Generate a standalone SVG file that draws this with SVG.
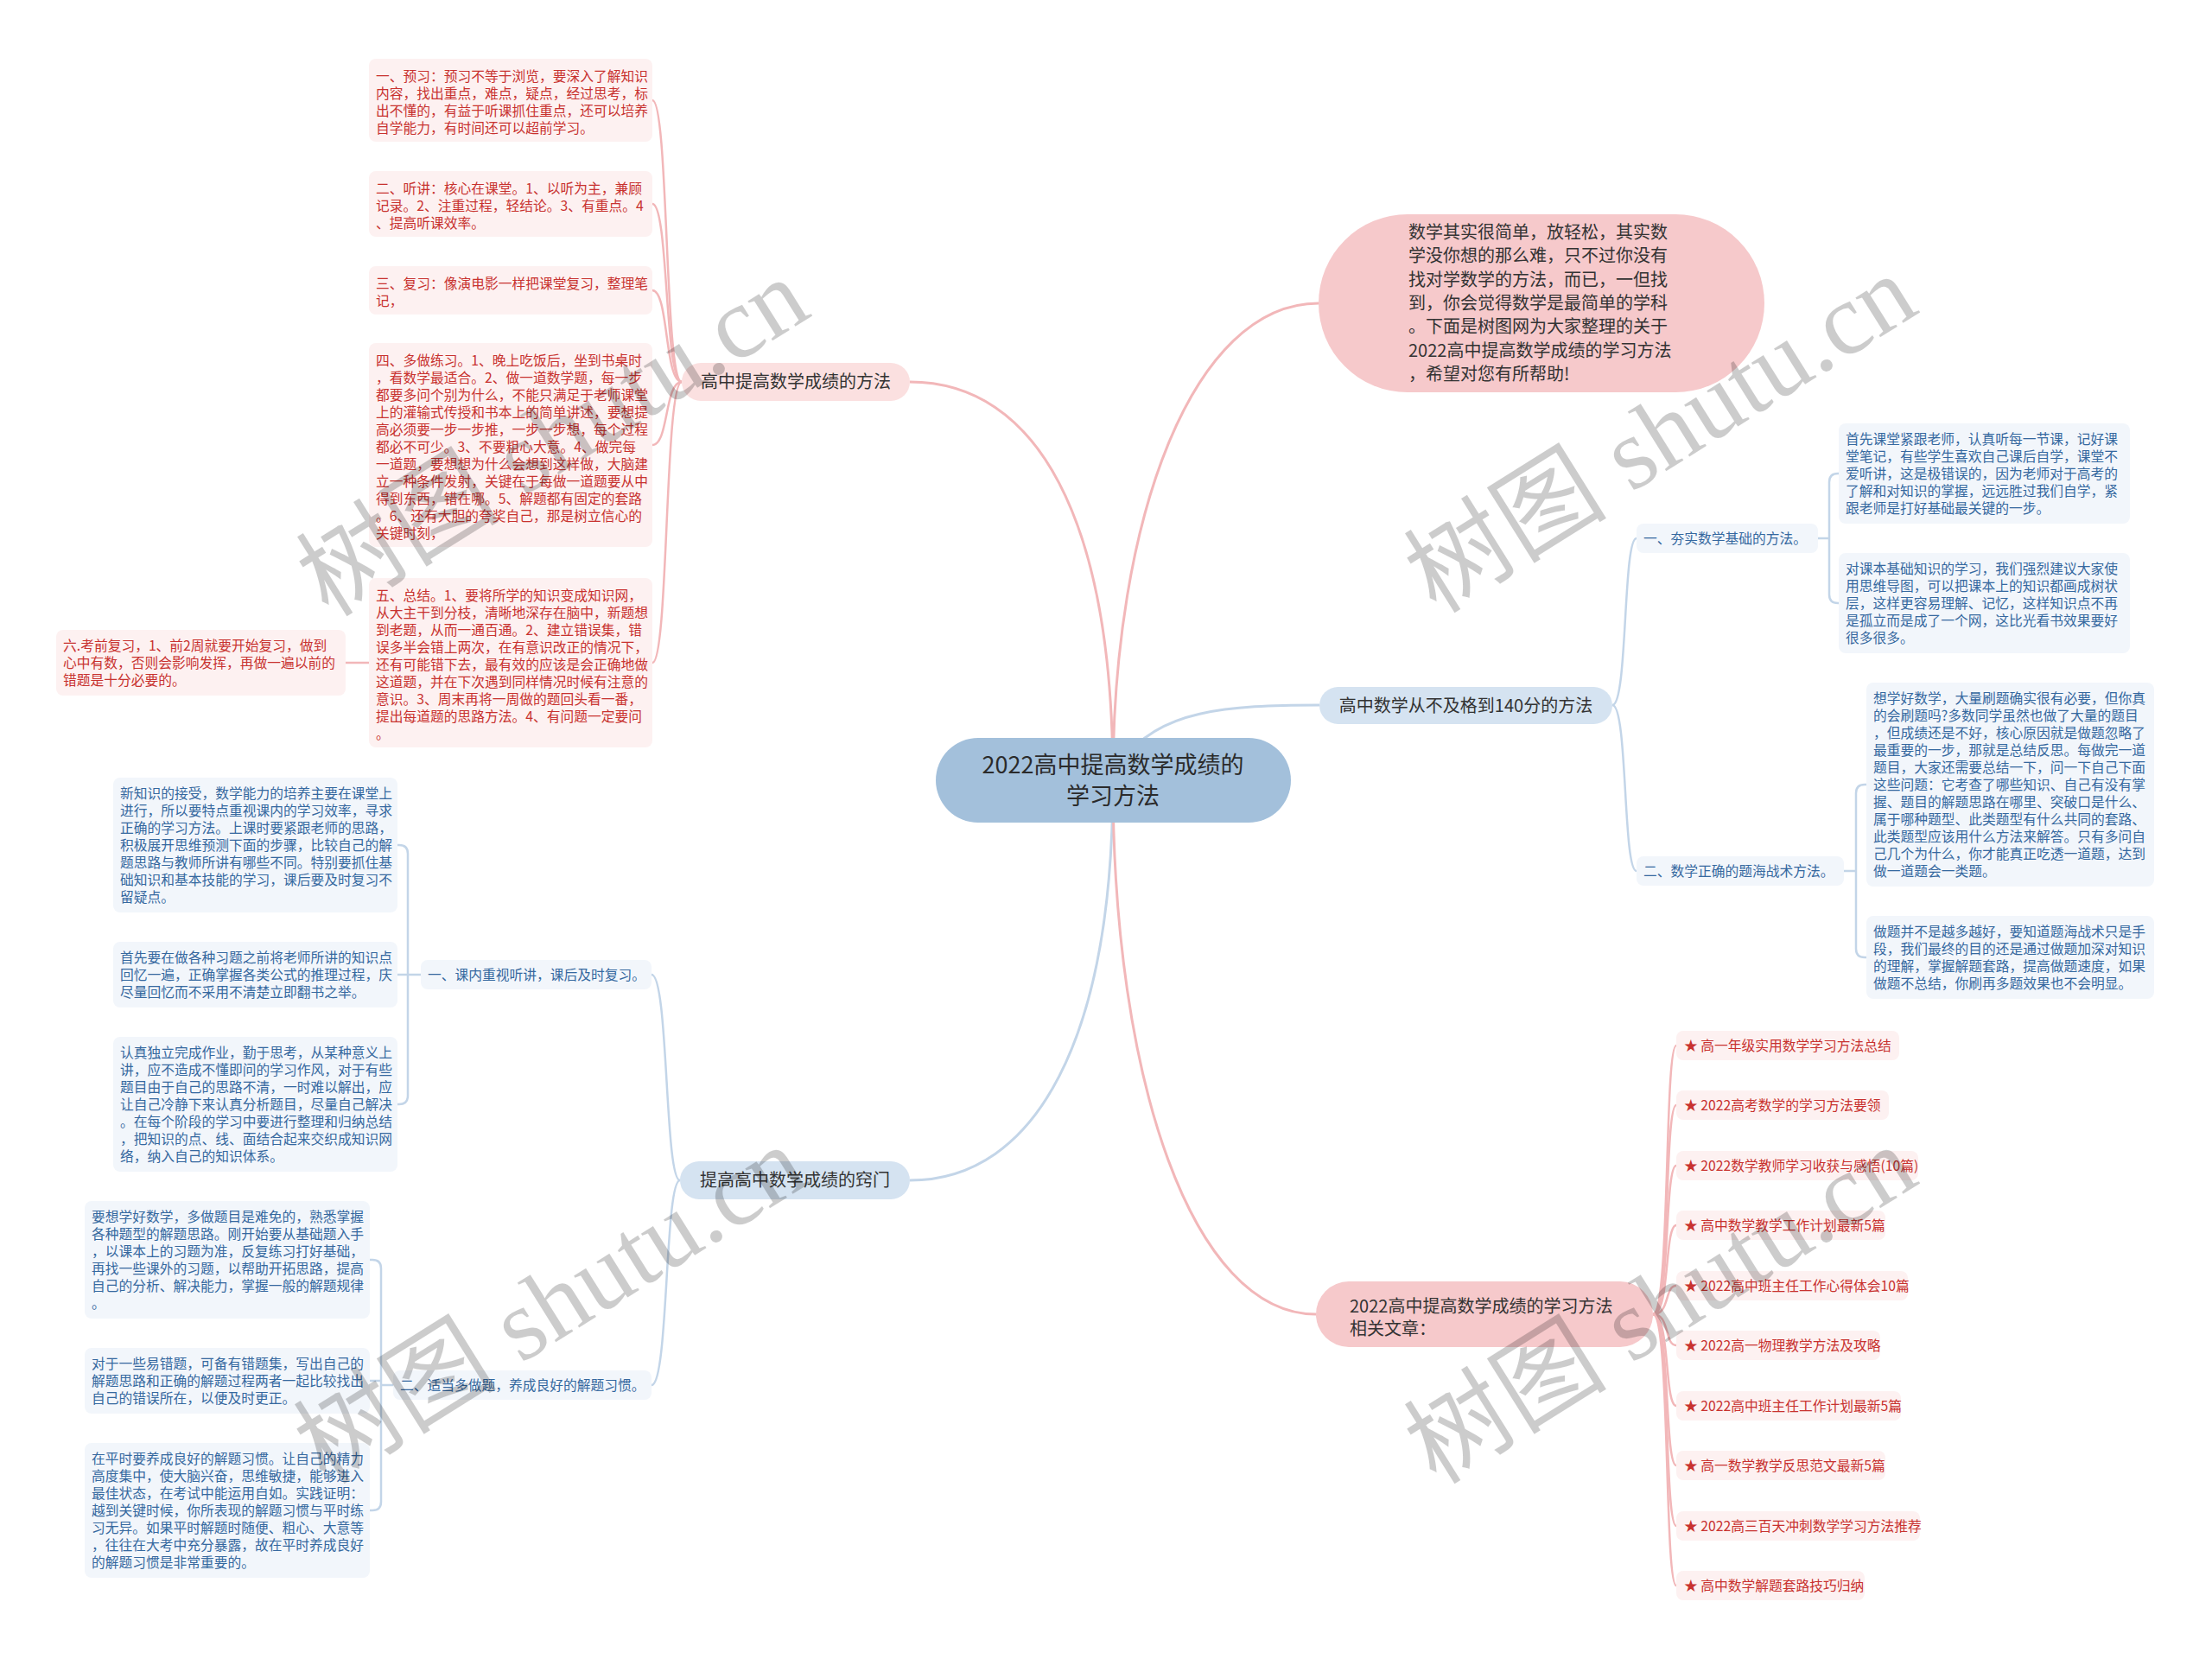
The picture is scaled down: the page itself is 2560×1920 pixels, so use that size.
<svg xmlns="http://www.w3.org/2000/svg" width="2560" height="1920" viewBox="0 0 2560 1920">
<style>
text{font-family:"Noto Sans CJK SC","Liberation Sans",sans-serif}
.r{font-size:15.75px;fill:#c8322f}
.b{font-size:15.75px;fill:#35689f}
.rb{fill:#fdf1f1}
.bb{fill:#f2f6fb}
.lv1{font-size:20px;fill:#333}
.pk{fill:none;stroke:#f2b7b9;stroke-width:2.5}
.bl{fill:none;stroke:#c3d5e8;stroke-width:2.5}
.pk3{fill:none;stroke:#f2b7b9;stroke-width:3}
.bl3{fill:none;stroke:#c3d5e8;stroke-width:3}
.wm{font-family:"Liberation Serif","Noto Sans CJK SC",serif;font-size:118px;fill:#000;fill-opacity:.2}
</style>
<rect width="2560" height="1920" fill="#fff"/>
<g id="connectors">
<path class="pk3" d="M1053 442 C1200 442 1288 600 1288 903"/>
<path class="pk3" d="M1288 903 C1288 600 1380 351 1526 351"/>
<path class="bl3" d="M1300 880 C1340 822 1420 816 1527 816"/>
<path class="bl3" d="M1288 903 C1288 1200 1200 1366 1053 1366"/>
<path class="pk3" d="M1288 903 C1288 1250 1380 1521 1523 1521"/>
<path class="pk" d="M789 442 C769 442 774 116 755 116"/>
<path class="pk" d="M789 442 C769 442 774 236 755 236"/>
<path class="pk" d="M789 442 C769 442 774 336 755 336"/>
<path class="pk" d="M789 442 C769 442 774 515 755 515"/>
<path class="pk" d="M789 442 C769 442 774 767 755 767"/>
<path class="pk" d="M427 767 H400"/>
<path class="bl" d="M787 1366 C769 1366 774 1128 754 1128"/>
<path class="bl" d="M787 1366 C769 1366 774 1603 754 1603"/>
<path class="bl" d="M487 1128 H472 M460 978 H462 Q472 978 472 988 V1268 Q472 1278 462 1278 H460 M472 1128 H460"/>
<path class="bl" d="M455 1603 H441 M428 1458 H431 Q441 1458 441 1468 V1738 Q441 1748 431 1748 H428 M441 1598 H428"/>
<path class="bl" d="M1866 816 C1884 816 1878 623 1894 623"/>
<path class="bl" d="M1866 816 C1884 816 1878 1008 1894 1008"/>
<path class="bl" d="M2104 623 H2117 M2128 548 H2127 Q2117 548 2117 558 V688 Q2117 698 2127 698 H2128"/>
<path class="bl" d="M2134 1008 H2148 M2160 908 H2158 Q2148 908 2148 918 V1098 Q2148 1108 2158 1108 H2160"/>
<path class="pk" d="M1913 1521 C1933 1521 1926 1210 1940 1210"/>
<path class="pk" d="M1913 1521 C1933 1521 1926 1279 1940 1279"/>
<path class="pk" d="M1913 1521 C1933 1521 1926 1349 1940 1349"/>
<path class="pk" d="M1913 1521 C1933 1521 1926 1418 1940 1418"/>
<path class="pk" d="M1913 1521 C1933 1521 1926 1488 1940 1488"/>
<path class="pk" d="M1913 1521 C1933 1521 1926 1557 1940 1557"/>
<path class="pk" d="M1913 1521 C1933 1521 1926 1627 1940 1627"/>
<path class="pk" d="M1913 1521 C1933 1521 1926 1696 1940 1696"/>
<path class="pk" d="M1913 1521 C1933 1521 1926 1766 1940 1766"/>
<path class="pk" d="M1913 1521 C1933 1521 1926 1835 1940 1835"/>
</g>
<g id="center">
<rect x="1083" y="854" width="411" height="98" rx="49" fill="#a3c0db"/>
<text x="1288" y="894.5" text-anchor="middle" font-size="27" fill="#2b2b2b">2022高中提高数学成绩的</text>
<text x="1288" y="930.5" text-anchor="middle" font-size="27" fill="#2b2b2b">学习方法</text>
</g>
<g id="b1">
<rect x="789" y="420" width="264" height="44" rx="22" fill="#fbe0e0"/>
<text class="lv1" x="921" y="449" text-anchor="middle">高中提高数学成绩的方法</text>
</g>
<g id="b2">
<rect x="1526" y="248" width="516" height="206" rx="103" fill="#f6c9cb"/>
<text class="lv1" x="1630" y="276">数学其实很简单，放轻松，其实数</text>
<text class="lv1" x="1630" y="303.3">学没你想的那么难，只不过你没有</text>
<text class="lv1" x="1630" y="330.6">找对学数学的方法，而已，一但找</text>
<text class="lv1" x="1630" y="357.9">到，你会觉得数学是最简单的学科</text>
<text class="lv1" x="1630" y="385.2">。下面是树图网为大家整理的关于</text>
<text class="lv1" x="1630" y="412.5">2022高中提高数学成绩的学习方法</text>
<text class="lv1" x="1630" y="439.8">，希望对您有所帮助!</text>
</g>
<g id="b3">
<rect x="1527" y="795" width="339" height="43" rx="21.5" fill="#d5e3f1"/>
<text class="lv1" x="1696.5" y="823.5" text-anchor="middle">高中数学从不及格到140分的方法</text>
</g>
<g id="b4">
<rect x="787" y="1344" width="266" height="44" rx="22" fill="#d5e3f1"/>
<text class="lv1" x="920" y="1373" text-anchor="middle">提高高中数学成绩的窍门</text>
</g>
<g id="b5">
<rect x="1523" y="1483" width="390" height="76" rx="38" fill="#f6c9cb"/>
<text class="lv1" x="1562" y="1519">2022高中提高数学成绩的学习方法</text>
<text class="lv1" x="1562" y="1545">相关文章：</text>
</g>
<g id="r1">
<rect class="rb" x="427" y="68" width="328" height="96" rx="8"/>
<text class="r" x="435" y="93.5">一、预习：预习不等于浏览，要深入了解知识</text>
<text class="r" x="435" y="113.5">内容，找出重点，难点，疑点，经过思考，标</text>
<text class="r" x="435" y="133.5">出不懂的，有益于听课抓住重点，还可以培养</text>
<text class="r" x="435" y="153.5">自学能力，有时间还可以超前学习。</text>
</g>
<g id="r2">
<rect class="rb" x="427" y="198" width="328" height="76" rx="8"/>
<text class="r" x="435" y="223.5">二、听讲：核心在课堂。1、以听为主，兼顾</text>
<text class="r" x="435" y="243.5">记录。2、注重过程，轻结论。3、有重点。4</text>
<text class="r" x="435" y="263.5">、提高听课效率。</text>
</g>
<g id="r3">
<rect class="rb" x="427" y="308" width="328" height="56" rx="8"/>
<text class="r" x="435" y="333.5">三、复习：像演电影一样把课堂复习，整理笔</text>
<text class="r" x="435" y="353.5">记，</text>
</g>
<g id="r4">
<rect class="rb" x="427" y="397" width="328" height="236" rx="8"/>
<text class="r" x="435" y="422.5">四、多做练习。1、晚上吃饭后，坐到书桌时</text>
<text class="r" x="435" y="442.5">，看数学最适合。2、做一道数学题，每一步</text>
<text class="r" x="435" y="462.5">都要多问个别为什么，不能只满足于老师课堂</text>
<text class="r" x="435" y="482.5">上的灌输式传授和书本上的简单讲述，要想提</text>
<text class="r" x="435" y="502.5">高必须要一步一步推，一步一步想，每个过程</text>
<text class="r" x="435" y="522.5">都必不可少。3、不要粗心大意。4、做完每</text>
<text class="r" x="435" y="542.5">一道题，要想想为什么会想到这样做，大脑建</text>
<text class="r" x="435" y="562.5">立一种条件发射，关键在于每做一道题要从中</text>
<text class="r" x="435" y="582.5">得到东西，错在哪。5、解题都有固定的套路</text>
<text class="r" x="435" y="602.5">。6、还有大胆的夸奖自己，那是树立信心的</text>
<text class="r" x="435" y="622.5">关键时刻，</text>
</g>
<g id="r5">
<rect class="rb" x="427" y="669" width="328" height="196" rx="8"/>
<text class="r" x="435" y="694.5">五、总结。1、要将所学的知识变成知识网，</text>
<text class="r" x="435" y="714.5">从大主干到分枝，清晰地深存在脑中，新题想</text>
<text class="r" x="435" y="734.5">到老题，从而一通百通。2、建立错误集，错</text>
<text class="r" x="435" y="754.5">误多半会错上两次，在有意识改正的情况下，</text>
<text class="r" x="435" y="774.5">还有可能错下去，最有效的应该是会正确地做</text>
<text class="r" x="435" y="794.5">这道题，并在下次遇到同样情况时候有注意的</text>
<text class="r" x="435" y="814.5">意识。3、周末再将一周做的题回头看一番，</text>
<text class="r" x="435" y="834.5">提出每道题的思路方法。4、有问题一定要问</text>
<text class="r" x="435" y="854.5">。</text>
</g>
<g id="r6">
<rect class="rb" x="65" y="729" width="335" height="76" rx="8"/>
<text class="r" x="73" y="752.5">六.考前复习，1、前2周就要开始复习，做到</text>
<text class="r" x="73" y="772.5">心中有数，否则会影响发挥，再做一遍以前的</text>
<text class="r" x="73" y="792.5">错题是十分必要的。</text>
</g>
<g id="subA">
<rect class="bb" x="487" y="1111" width="267" height="34" rx="8"/>
<text class="b" x="495" y="1133.5">一、课内重视听讲，课后及时复习。</text>
</g>
<g id="a1">
<rect class="bb" x="131" y="900" width="329" height="156" rx="8"/>
<text class="b" x="139" y="923.5">新知识的接受，数学能力的培养主要在课堂上</text>
<text class="b" x="139" y="943.5">进行，所以要特点重视课内的学习效率，寻求</text>
<text class="b" x="139" y="963.5">正确的学习方法。上课时要紧跟老师的思路，</text>
<text class="b" x="139" y="983.5">积极展开思维预测下面的步骤，比较自己的解</text>
<text class="b" x="139" y="1003.5">题思路与教师所讲有哪些不同。特别要抓住基</text>
<text class="b" x="139" y="1023.5">础知识和基本技能的学习，课后要及时复习不</text>
<text class="b" x="139" y="1043.5">留疑点。</text>
</g>
<g id="a2">
<rect class="bb" x="131" y="1090" width="329" height="76" rx="8"/>
<text class="b" x="139" y="1113.5">首先要在做各种习题之前将老师所讲的知识点</text>
<text class="b" x="139" y="1133.5">回忆一遍，正确掌握各类公式的推理过程，庆</text>
<text class="b" x="139" y="1153.5">尽量回忆而不采用不清楚立即翻书之举。</text>
</g>
<g id="a3">
<rect class="bb" x="131" y="1200" width="329" height="156" rx="8"/>
<text class="b" x="139" y="1223.5">认真独立完成作业，勤于思考，从某种意义上</text>
<text class="b" x="139" y="1243.5">讲，应不造成不懂即问的学习作风，对于有些</text>
<text class="b" x="139" y="1263.5">题目由于自己的思路不清，一时难以解出，应</text>
<text class="b" x="139" y="1283.5">让自己冷静下来认真分析题目，尽量自己解决</text>
<text class="b" x="139" y="1303.5">。在每个阶段的学习中要进行整理和归纳总结</text>
<text class="b" x="139" y="1323.5">，把知识的点、线、面结合起来交织成知识网</text>
<text class="b" x="139" y="1343.5">络，纳入自己的知识体系。</text>
</g>
<g id="subB">
<rect class="bb" x="455" y="1586" width="299" height="34" rx="8"/>
<text class="b" x="463" y="1608.5">二、适当多做题，养成良好的解题习惯。</text>
</g>
<g id="bb1">
<rect class="bb" x="98" y="1390" width="330" height="136" rx="8"/>
<text class="b" x="106" y="1413.5">要想学好数学，多做题目是难免的，熟悉掌握</text>
<text class="b" x="106" y="1433.5">各种题型的解题思路。刚开始要从基础题入手</text>
<text class="b" x="106" y="1453.5">，以课本上的习题为准，反复练习打好基础，</text>
<text class="b" x="106" y="1473.5">再找一些课外的习题，以帮助开拓思路，提高</text>
<text class="b" x="106" y="1493.5">自己的分析、解决能力，掌握一般的解题规律</text>
<text class="b" x="106" y="1513.5">。</text>
</g>
<g id="bb2">
<rect class="bb" x="98" y="1560" width="330" height="76" rx="8"/>
<text class="b" x="106" y="1583.5">对于一些易错题，可备有错题集，写出自己的</text>
<text class="b" x="106" y="1603.5">解题思路和正确的解题过程两者一起比较找出</text>
<text class="b" x="106" y="1623.5">自己的错误所在，以便及时更正。</text>
</g>
<g id="bb3">
<rect class="bb" x="98" y="1670" width="330" height="156" rx="8"/>
<text class="b" x="106" y="1693.5">在平时要养成良好的解题习惯。让自己的精力</text>
<text class="b" x="106" y="1713.5">高度集中，使大脑兴奋，思维敏捷，能够进入</text>
<text class="b" x="106" y="1733.5">最佳状态，在考试中能运用自如。实践证明：</text>
<text class="b" x="106" y="1753.5">越到关键时候，你所表现的解题习惯与平时练</text>
<text class="b" x="106" y="1773.5">习无异。如果平时解题时随便、粗心、大意等</text>
<text class="b" x="106" y="1793.5">，往往在大考中充分暴露，故在平时养成良好</text>
<text class="b" x="106" y="1813.5">的解题习惯是非常重要的。</text>
</g>
<g id="c1">
<rect class="bb" x="1894" y="606" width="210" height="34" rx="8"/>
<text class="b" x="1902" y="628.5">一、夯实数学基础的方法。</text>
</g>
<g id="d1">
<rect class="bb" x="2128" y="490" width="337" height="116" rx="8"/>
<text class="b" x="2136" y="513.5">首先课堂紧跟老师，认真听每一节课，记好课</text>
<text class="b" x="2136" y="533.5">堂笔记，有些学生喜欢自己课后自学，课堂不</text>
<text class="b" x="2136" y="553.5">爱听讲，这是极错误的，因为老师对于高考的</text>
<text class="b" x="2136" y="573.5">了解和对知识的掌握，远远胜过我们自学，紧</text>
<text class="b" x="2136" y="593.5">跟老师是打好基础最关键的一步。</text>
</g>
<g id="d2">
<rect class="bb" x="2128" y="640" width="337" height="116" rx="8"/>
<text class="b" x="2136" y="663.5">对课本基础知识的学习，我们强烈建议大家使</text>
<text class="b" x="2136" y="683.5">用思维导图，可以把课本上的知识都画成树状</text>
<text class="b" x="2136" y="703.5">层，这样更容易理解、记忆，这样知识点不再</text>
<text class="b" x="2136" y="723.5">是孤立而是成了一个网，这比光看书效果要好</text>
<text class="b" x="2136" y="743.5">很多很多。</text>
</g>
<g id="c2">
<rect class="bb" x="1894" y="991" width="240" height="34" rx="8"/>
<text class="b" x="1902" y="1013.5">二、数学正确的题海战术方法。</text>
</g>
<g id="e1">
<rect class="bb" x="2160" y="790" width="333" height="236" rx="8"/>
<text class="b" x="2168" y="813.5">想学好数学，大量刷题确实很有必要，但你真</text>
<text class="b" x="2168" y="833.5">的会刷题吗?多数同学虽然也做了大量的题目</text>
<text class="b" x="2168" y="853.5">，但成绩还是不好，核心原因就是做题忽略了</text>
<text class="b" x="2168" y="873.5">最重要的一步，那就是总结反思。每做完一道</text>
<text class="b" x="2168" y="893.5">题目，大家还需要总结一下，问一下自己下面</text>
<text class="b" x="2168" y="913.5">这些问题：它考查了哪些知识、自己有没有掌</text>
<text class="b" x="2168" y="933.5">握、题目的解题思路在哪里、突破口是什么、</text>
<text class="b" x="2168" y="953.5">属于哪种题型、此类题型有什么共同的套路、</text>
<text class="b" x="2168" y="973.5">此类题型应该用什么方法来解答。只有多问自</text>
<text class="b" x="2168" y="993.5">己几个为什么，你才能真正吃透一道题，达到</text>
<text class="b" x="2168" y="1013.5">做一道题会一类题。</text>
</g>
<g id="e2">
<rect class="bb" x="2160" y="1060" width="333" height="96" rx="8"/>
<text class="b" x="2168" y="1083.5">做题并不是越多越好，要知道题海战术只是手</text>
<text class="b" x="2168" y="1103.5">段，我们最终的目的还是通过做题加深对知识</text>
<text class="b" x="2168" y="1123.5">的理解，掌握解题套路，提高做题速度，如果</text>
<text class="b" x="2168" y="1143.5">做题不总结，你刷再多题效果也不会明显。</text>
</g>
<g id="links" font-size="15.5">
<g id="l1"><rect class="rb" x="1940" y="1193" width="258" height="34" rx="8"/><text class="r" font-size="15.5" x="1949" y="1215.5">★ 高一年级实用数学学习方法总结</text></g>
<g id="l2"><rect class="rb" x="1940" y="1262" width="246" height="34" rx="8"/><text class="r" font-size="15.5" x="1949" y="1284.5">★ 2022高考数学的学习方法要领</text></g>
<g id="l3"><rect class="rb" x="1940" y="1332" width="280" height="34" rx="8"/><text class="r" font-size="15.5" x="1949" y="1354.5">★ 2022数学教师学习收获与感悟(10篇)</text></g>
<g id="l4"><rect class="rb" x="1940" y="1401" width="242" height="34" rx="8"/><text class="r" font-size="15.5" x="1949" y="1423.5">★ 高中数学教学工作计划最新5篇</text></g>
<g id="l5"><rect class="rb" x="1940" y="1471" width="268" height="34" rx="8"/><text class="r" font-size="15.5" x="1949" y="1493.5">★ 2022高中班主任工作心得体会10篇</text></g>
<g id="l6"><rect class="rb" x="1940" y="1540" width="236" height="34" rx="8"/><text class="r" font-size="15.5" x="1949" y="1562.5">★ 2022高一物理教学方法及攻略</text></g>
<g id="l7"><rect class="rb" x="1940" y="1610" width="260" height="34" rx="8"/><text class="r" font-size="15.5" x="1949" y="1632.5">★ 2022高中班主任工作计划最新5篇</text></g>
<g id="l8"><rect class="rb" x="1940" y="1679" width="242" height="34" rx="8"/><text class="r" font-size="15.5" x="1949" y="1701.5">★ 高一数学教学反思范文最新5篇</text></g>
<g id="l9"><rect class="rb" x="1940" y="1749" width="282" height="34" rx="8"/><text class="r" font-size="15.5" x="1949" y="1771.5">★ 2022高三百天冲刺数学学习方法推荐</text></g>
<g id="l10"><rect class="rb" x="1940" y="1818" width="218" height="34" rx="8"/><text class="r" font-size="15.5" x="1949" y="1840.5">★ 高中数学解题套路技巧归纳</text></g>
</g>
<g id="watermark">
<text class="wm" text-anchor="middle" transform="translate(661 540) rotate(-32)">树图 shutu.cn</text>
<text class="wm" text-anchor="middle" transform="translate(1943 536) rotate(-32)">树图 shutu.cn</text>
<text class="wm" text-anchor="middle" transform="translate(658 1544) rotate(-32)">树图 shutu.cn</text>
<text class="wm" text-anchor="middle" transform="translate(1943 1544) rotate(-32)">树图 shutu.cn</text>
</g>
</svg>
